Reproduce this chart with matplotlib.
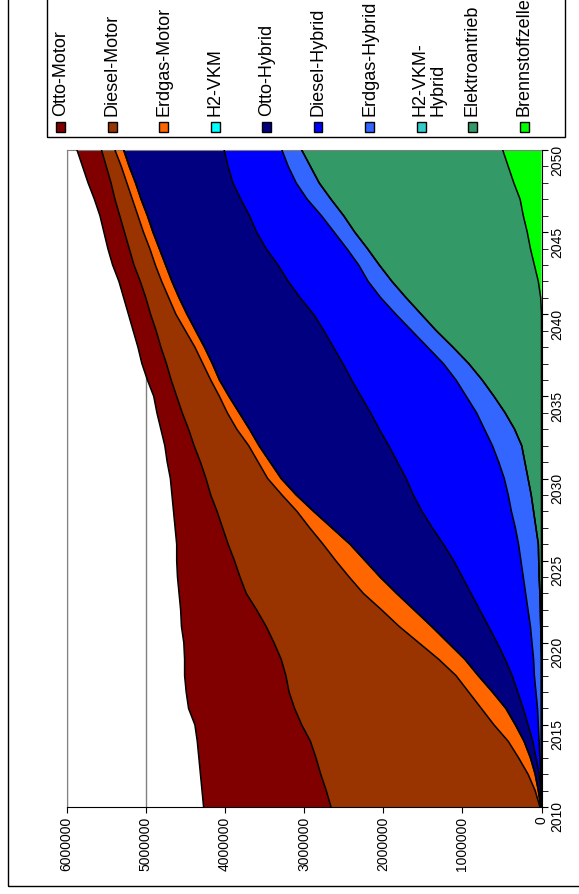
import numpy as np
import matplotlib
matplotlib.use('Agg')
import matplotlib.pyplot as plt
from matplotlib.patches import Rectangle

plt.rcParams['font.family'] = ['Liberation Sans', 'DejaVu Sans']

# Fahrzeugbestand je Antriebsart, in 1000
years = np.arange(2010, 2051)

otto_motor = [1610, 1570, 1520, 1480, 1430, 1350, 1340, 1300, 1280, 1220,
              1140, 1070, 960, 850, 790, 730, 650, 600, 550, 490,
              450, 420, 370, 350, 320, 290, 300, 310, 290, 290,
              280, 280, 270, 270, 270, 260, 250, 260, 290, 300, 310]
diesel_motor = [2640, 2640, 2620, 2560, 2500, 2430, 2360, 2270, 2150, 1990,
                1830, 1680, 1580, 1480, 1380, 1280, 1200, 1100, 1010, 900,
                780, 730, 690, 610, 570, 540, 500, 460, 430, 370,
                320, 290, 270, 270, 260, 240, 230, 220, 200, 190, 170]
erdgas_motor = [10, 40, 90, 150, 200, 270, 310, 300, 280, 330,
                370, 410, 410, 420, 390, 370, 340, 280, 210, 180,
                170, 150, 130, 160, 150, 120, 110, 120, 120, 130,
                140, 130, 130, 130, 120, 120, 120, 110, 110, 100, 110]
h2_vkm = [0] * 41
otto_hybrid = [10, 30, 50, 70, 110, 160, 220, 320, 430, 510,
               620, 720, 830, 940, 1040, 1120, 1180, 1270, 1370, 1480,
               1580, 1610, 1640, 1640, 1660, 1670, 1670, 1650, 1630, 1620,
               1600, 1530, 1470, 1420, 1350, 1310, 1290, 1260, 1230, 1250, 1270]
diesel_hybrid = [0, 10, 20, 50, 80, 130, 180, 230, 280, 360,
                 440, 530, 610, 690, 770, 850, 950, 1050, 1130, 1200,
                 1240, 1280, 1310, 1330, 1340, 1330, 1320, 1270, 1190, 1110,
                 1040, 1020, 1010, 1020, 1020, 980, 910, 840, 800, 760, 730]
erdgas_hybrid = [0, 0, 10, 20, 30, 40, 50, 70, 90, 100,
                 115, 130, 155, 180, 200, 225, 250, 260, 280, 290,
                 300, 330, 370, 380, 360, 350, 330, 320, 320, 310,
                 320, 320, 300, 260, 260, 260, 280, 300, 290, 280, 250]
h2_vkm_hybrid = [0] * 41
elektro = [0, 0, 0, 0, 0, 0, 0, 0, 0, 0,
           5, 10, 15, 20, 30, 35, 40, 70, 100, 130,
           170, 210, 250, 340, 460, 600, 750, 920, 1120, 1330,
           1520, 1700, 1850, 1960, 2060, 2180, 2270, 2390, 2460, 2500, 2540]
brennstoff = [0] * 31 + [10, 40, 90, 140, 180, 230, 270, 350, 420, 490]

names = ['Otto-Motor', 'Diesel-Motor', 'Erdgas-Motor', 'H2-VKM', 'Otto-Hybrid',
         'Diesel-Hybrid', 'Erdgas-Hybrid', 'H2-VKM-\nHybrid', 'Elektroantrieb',
         'Brennstoffzelle']
colors = ['#800000', '#993300', '#FF6600', '#00FFFF', '#000080',
          '#0000FF', '#3366FF', '#33CCCC', '#339966', '#00FF00']
series = [otto_motor, diesel_motor, erdgas_motor, h2_vkm, otto_hybrid,
          diesel_hybrid, erdgas_hybrid, h2_vkm_hybrid, elektro, brennstoff]

value_ticks = [0, 1000000, 2000000, 3000000, 4000000, 5000000, 6000000]

W, H = 579, 894
fig = plt.figure(figsize=(W / 100, H / 100), dpi=100)

def px(x, y):
    return x / W, 1 - y / H

# Diagramm ist um 90 Grad gedreht: Jahre senkrecht, Werte waagerecht (nach links)
x0, y0 = px(66.7, 807)
x1, y1 = px(541.5, 150)
ax = fig.add_axes([x0, y0, x1 - x0, y1 - y0])

stack = np.array(series[::-1], dtype=float) * 1000
cols = colors[::-1]
lower = np.zeros(len(years))
for row, c in zip(stack, cols):
    upper = lower + row
    ax.fill_betweenx(years, lower, upper, facecolor=c, lw=0, zorder=2)
    lower = upper
lower = np.zeros(len(years))
for row in stack:
    lower = lower + row
    ax.plot(lower, years, color='black', lw=1.1, zorder=3)

ax.set_xlim(6000000, 0)
ax.set_ylim(2010, 2050)
ax.set_xticks(value_ticks)
ax.set_xticklabels([str(v) for v in value_ticks])
ax.set_yticks(range(2010, 2051, 5))
ax.set_yticks(years, minor=True)
ax.yaxis.tick_right()
ax.tick_params(axis='x', labelrotation=90, direction='out', length=4, labelsize=10, pad=3)
ax.tick_params(axis='y', which='both', labelrotation=90, direction='out', length=4,
               labelsize=10, pad=2)
ax.grid(axis='x', color='#808080', lw=1)
ax.set_axisbelow(True)
for s in ['left', 'top']:
    ax.spines[s].set_color('#808080')
for s in ['right', 'bottom']:
    ax.spines[s].set_color('black')
    ax.spines[s].set_zorder(4)

# Legende (gedreht)
lx, ly = px(47, 137)
fig.add_artist(Rectangle((lx, ly), (565 - 47) / W, 0.3, transform=fig.transFigure,
                         fill=False, edgecolor='black', lw=1))
for i, (n, c) in enumerate(zip(names, colors)):
    cx = 60.5 + i * 51.5
    mx, my = px(cx - 4.5, 131.5)
    fig.add_artist(Rectangle((mx, my), 9 / W, 9 / H, transform=fig.transFigure,
                             facecolor=c, edgecolor='black', lw=1))
    tx = cx + (8 if '\n' in n else 0)
    fig.text(tx / W, 1 - 116 / H, n, rotation=90, ha='center', va='bottom',
             fontsize=13, multialignment='left', linespacing=1.1)

# Rahmen
fx, fy = px(8, 886)
fig.add_artist(Rectangle((fx, fy), 1.2, 1.2, transform=fig.transFigure,
                         fill=False, edgecolor='black', lw=1))

fig.savefig('out.png', dpi=100)
